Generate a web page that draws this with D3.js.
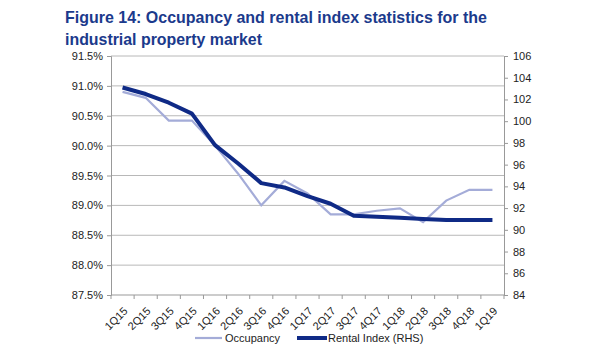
<!DOCTYPE html>
<html><head><meta charset="utf-8">
<script src="https://cdn.jsdelivr.net/npm/d3@7"></script>
<style>body{margin:0;background:#fff;font-family:"Liberation Sans",Arial,sans-serif;}</style>
</head><body><svg id="c" width="600" height="360"></svg>
<script>
const categories = ["1Q15","2Q15","3Q15","4Q15","1Q16","2Q16","3Q16","4Q16","1Q17","2Q17","3Q17","4Q17","1Q18","2Q18","3Q18","4Q18","1Q19"];
const occupancy = [90.90,90.80,90.42,90.42,90.00,89.53,89.00,89.41,89.20,88.85,88.85,88.91,88.95,88.72,89.08,89.26,89.26];
const rentalIndex = [103.1,102.5,101.7,100.7,97.8,96.1,94.3,93.9,93.1,92.4,91.3,91.2,91.1,91.0,90.9,90.9,90.9];
const leftTicks = [87.5,88.0,88.5,89.0,89.5,90.0,90.5,91.0,91.5];
const rightTicks = [84,86,88,90,92,94,96,98,100,102,104,106];

const svg = d3.select("#c");
const L = 111, R = 504, T = 56, B = 295;
const x = d3.scaleBand().domain(categories).range([L, R]);
const yL = d3.scaleLinear().domain([87.5, 91.5]).range([B, T]);
const yR = d3.scaleLinear().domain([84, 106]).range([B, T]);

svg.append("text").attr("x", 65).attr("y", 23).attr("fill", "#1b3a8c")
  .attr("font-size", 16.5).attr("font-weight", "bold")
  .attr("textLength", 422).attr("lengthAdjust", "spacingAndGlyphs")
  .text("Figure 14: Occupancy and rental index statistics for the");
svg.append("text").attr("x", 65).attr("y", 45).attr("fill", "#1b3a8c")
  .attr("font-size", 16.5).attr("font-weight", "bold")
  .attr("textLength", 197).attr("lengthAdjust", "spacingAndGlyphs")
  .text("industrial property market");

// gridlines
svg.append("g").selectAll("line").data(leftTicks.slice(1)).join("line")
  .attr("x1", L).attr("x2", R).attr("y1", d => yL(d)).attr("y2", d => yL(d))
  .attr("stroke", "#b8b8b8").attr("stroke-width", 1);

const gl = svg.append("g").attr("transform", `translate(${L},0)`)
  .call(d3.axisLeft(yL).tickValues(leftTicks).tickFormat(d => d3.format(".1f")(d) + "%").tickSize(4).tickPadding(4));
const gr = svg.append("g").attr("transform", `translate(${R},0)`)
  .call(d3.axisRight(yR).tickValues(rightTicks).tickFormat(d3.format("d")).tickSize(4).tickPadding(5));
[gl, gr].forEach(g => {
  g.select(".domain").attr("stroke", "#999");
  g.selectAll(".tick line").attr("stroke", "#999");
  g.selectAll("text").attr("font-size", 11).attr("fill", "#222").attr("font-family", "Liberation Sans, Arial, sans-serif");
});

// x axis
const gx = svg.append("g").attr("transform", `translate(0,${B})`);
gx.append("line").attr("x1", L).attr("x2", R).attr("stroke", "#999");
const bounds = categories.map(c => x(c)).concat([R]);
gx.selectAll("line.t").data(bounds).join("line").attr("class", "t")
  .attr("x1", d => d).attr("x2", d => d).attr("y1", 0).attr("y2", 4).attr("stroke", "#999");
gx.selectAll("text").data(categories).join("text")
  .attr("transform", d => `translate(${x(d) + x.bandwidth() / 2 + 3},${14}) rotate(-45)`)
  .attr("text-anchor", "end").attr("dy", "0.35em")
  .attr("font-size", 11).attr("fill", "#222").text(d => d);

const cx = d => x(d) + x.bandwidth() / 2;
svg.append("path").datum(occupancy)
  .attr("d", d3.line().x((d, i) => cx(categories[i])).y(d => yL(d)))
  .attr("fill", "none").attr("stroke", "#a4acd8").attr("stroke-width", 2.2);
svg.append("path").datum(rentalIndex)
  .attr("d", d3.line().x((d, i) => cx(categories[i])).y(d => yR(d)))
  .attr("fill", "none").attr("stroke", "#0f2a86").attr("stroke-width", 4).attr("stroke-linejoin", "round");

// legend
const lg = svg.append("g");
lg.append("line").attr("x1", 195).attr("x2", 222).attr("y1", 338).attr("y2", 338).attr("stroke", "#a4acd8").attr("stroke-width", 2.2);
lg.append("text").attr("x", 225).attr("y", 342).attr("font-size", 11).attr("fill", "#222").text("Occupancy");
lg.append("line").attr("x1", 297).attr("x2", 327).attr("y1", 338).attr("y2", 338).attr("stroke", "#0f2a86").attr("stroke-width", 4);
lg.append("text").attr("x", 328).attr("y", 342).attr("font-size", 11).attr("fill", "#222").text("Rental Index (RHS)");
</script></body></html>
